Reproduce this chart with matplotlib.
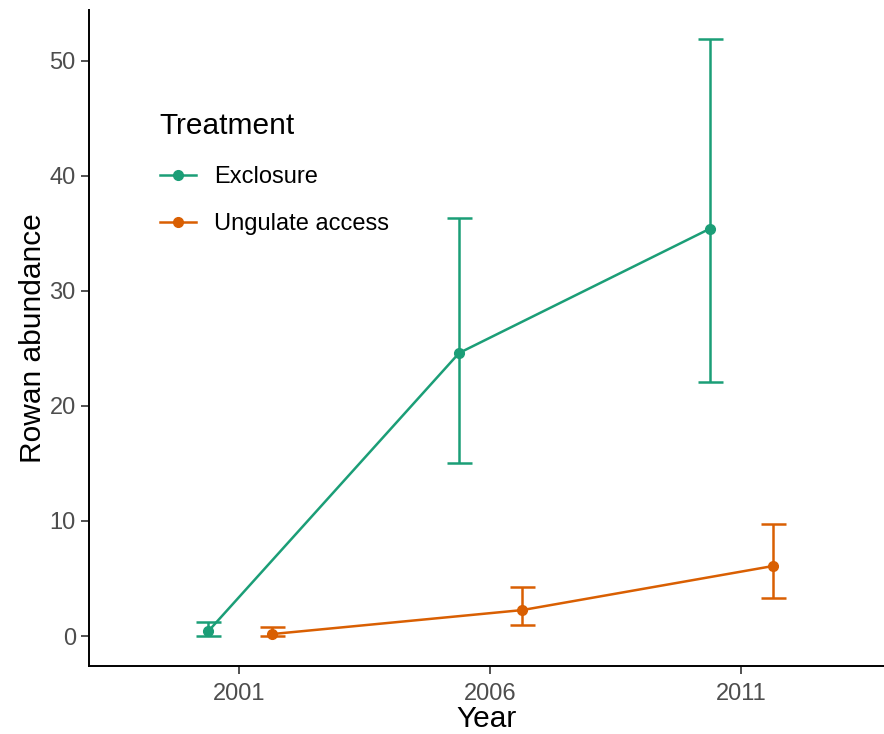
import matplotlib
matplotlib.use("Agg")
import matplotlib.pyplot as plt
import numpy as np

plt.rcParams['font.family'] = ['Liberation Sans', 'DejaVu Sans']

years = [2001, 2006, 2011]
treatments = ["Exclosure", "Ungulate access"]
colors = ["#1B9E77", "#D95F02"]
excl_mean = [0.43, 24.6, 35.4]
excl_low = [0.0, 15.0, 22.1]
excl_high = [1.2, 36.35, 51.9]
ung_mean = [0.17, 2.26, 6.09]
ung_low = [0.0, 0.96, 3.3]
ung_high = [0.8, 4.26, 9.74]

means = [excl_mean, ung_mean]
lows = [excl_low, ung_low]
highs = [excl_high, ung_high]
dodge = [-0.62, 0.64]

fig = plt.figure(figsize=(8.84, 7.34), dpi=100)
ax = fig.add_axes([89/884, (734-666)/734, (884-89)/884, (666-10)/734])

for i, t in enumerate(treatments):
    x = np.array(years) + dodge[i]
    m = np.array(means[i])
    lo = m - np.array(lows[i])
    hi = np.array(highs[i]) - m
    ax.errorbar(x, m, yerr=[lo, hi], fmt='none', ecolor=colors[i], elinewidth=1.8,
                capsize=9, capthick=1.8, zorder=2)
    ax.plot(x, m, '-o', color=colors[i], lw=1.8, markersize=7, label=t, zorder=3)

ax.set_xlim(1998.0, 2013.85)
ax.set_ylim(-2.6, 54.4)
ax.set_xticks(years)
ax.set_xticklabels([str(y) for y in years])
ax.set_yticks([0, 10, 20, 30, 40, 50])
for s in ['top', 'right']:
    ax.spines[s].set_visible(False)
for s in ['left', 'bottom']:
    ax.spines[s].set_linewidth(1.4)
ax.tick_params(axis='both', labelsize=17, colors='#4D4D4D', length=5.5, width=1.2, pad=4)
ax.tick_params(axis='x', pad=7)
ax.tick_params(axis='both', color='#333333')
ax.set_xlabel("Year", fontsize=21.5, labelpad=0)
ax.set_ylabel("Rowan abundance", fontsize=21.5, labelpad=2)

leg = ax.legend(title="Treatment", loc='upper left', bbox_to_anchor=(0.077, 0.859),
                frameon=False, fontsize=17, title_fontsize=21.5, handlelength=1.52,
                handletextpad=0.8, labelspacing=1.05, alignment='left', borderaxespad=0)
leg._legend_box.sep = 19

fig.savefig("out.png", dpi=100)
